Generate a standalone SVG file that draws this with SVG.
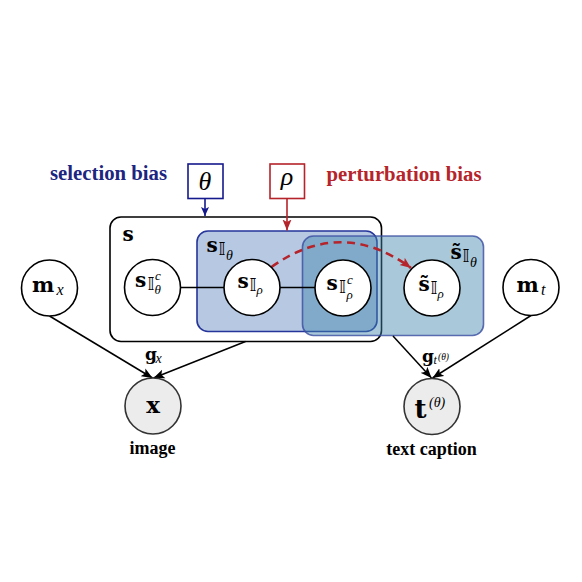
<svg xmlns="http://www.w3.org/2000/svg" width="582" height="582" viewBox="0 0 582 582">
<defs>
<style>
.mb{font-family:"DejaVu Serif",serif;font-weight:bold;fill:#000}
.mi{font-family:"Liberation Serif",serif;font-style:italic;fill:#000}
.bb{font-family:"DejaVu Sans",sans-serif;fill:#000}
.lbl{font-family:"Liberation Serif",serif;font-weight:bold}
.node{fill:#fff;stroke:#000;stroke-width:1.6}
.obs{fill:#ececec;stroke:#333;stroke-width:1.6}
.edge{stroke:#000;stroke-width:1.5;fill:none}
</style>
<marker id="ak" markerWidth="12" markerHeight="10" refX="11" refY="5" orient="auto" markerUnits="userSpaceOnUse">
<path d="M0,0.5 L11,5 L0,9.5 L2.5,5 z" fill="#000"/>
</marker>
<marker id="an" markerWidth="10" markerHeight="10" refX="9" refY="5" orient="auto" markerUnits="userSpaceOnUse">
<path d="M0,1 L9,5 L0,9 L2,5 z" fill="#141a8c"/>
</marker>
<marker id="ar" markerWidth="12" markerHeight="10" refX="11" refY="5" orient="auto" markerUnits="userSpaceOnUse">
<path d="M0,0.5 L11,5 L0,9.5 L2.5,5 z" fill="#b5242a"/>
</marker>
</defs>
<rect width="582" height="582" fill="#fff"/>

<text class="lbl" x="50" y="180" font-size="20.5" fill="#1c2580" textLength="117" lengthAdjust="spacingAndGlyphs">selection bias</text>
<text class="lbl" x="326.5" y="180.5" font-size="20.5" fill="#b5242a" textLength="155" lengthAdjust="spacingAndGlyphs">perturbation bias</text>

<g id="theta">
<rect x="188" y="164" width="35" height="34.5" fill="#fff" stroke="#141a8c" stroke-width="1.6"/>
<text class="mi" x="205" y="190" font-size="26" text-anchor="middle">θ</text>
</g>
<g id="rho">
<rect x="270" y="164" width="34.5" height="34.5" fill="#fff" stroke="#b5242a" stroke-width="1.6"/>
<text class="mi" x="287" y="185" font-size="26" text-anchor="middle">ρ</text>
</g>

<g id="S">
<rect x="110" y="217" width="271.5" height="124.5" rx="11" fill="none" stroke="#000" stroke-width="1.6"/>
<text class="mb" x="122.5" y="241" font-size="20">s</text>
</g>
<g id="S_Itheta">
<rect x="197" y="231" width="180" height="100.5" rx="11" fill="#b6c8e2" stroke="#25359a" stroke-width="1.6"/>
<text class="mb" x="206.5" y="251.5" font-size="20">s</text>
<text class="bb" x="218.5" y="254.5" font-size="18">𝕀</text>
<text class="mi" x="226" y="259.5" font-size="14">θ</text>
</g>
<g id="Stilde_Itheta">
<rect x="302.5" y="236" width="181" height="99.5" rx="11" fill="rgb(64,133,173)" fill-opacity="0.45" stroke="#3a4ca0" stroke-opacity="0.8" stroke-width="1.6"/>
<text class="mb" x="450.5" y="258.5" font-size="20">s&#x303;</text>
<text class="bb" x="462.5" y="261.5" font-size="18">𝕀</text>
<text class="mi" x="470" y="266.5" font-size="14">θ</text>
</g>

<g id="connectors">
<line x1="205" y1="198.5" x2="205" y2="216" stroke="#141a8c" stroke-width="1.6" marker-end="url(#an)"/>
<line x1="287" y1="198.5" x2="287" y2="230.5" stroke="#b5242a" stroke-width="1.6" marker-end="url(#ar)"/>
<line class="edge" x1="180.5" y1="287.5" x2="224" y2="287.5"/>
<line class="edge" x1="280" y1="287.5" x2="315" y2="287.5"/>
<path d="M271.5,267 Q341.5,217 411,268" fill="none" stroke="#b5242a" stroke-width="2.6" stroke-dasharray="8,5.5" marker-end="url(#ar)"/>
<line class="edge" x1="49.5" y1="316" x2="152.5" y2="378" marker-end="url(#ak)"/>
<line class="edge" x1="245.5" y1="341.5" x2="153.5" y2="378" marker-end="url(#ak)"/>
<line class="edge" x1="393" y1="336" x2="431.5" y2="378" marker-end="url(#ak)"/>
<line class="edge" x1="531" y1="315.5" x2="432.5" y2="378" marker-end="url(#ak)"/>
<text class="mb" x="145" y="360" font-size="17">g</text>
<text class="mi" x="155.5" y="363" font-size="14">x</text>
<text class="mb" x="422" y="361.5" font-size="17">g</text>
<text class="mi" x="433.5" y="364" font-size="12">t</text>
<text class="mi" x="438" y="360" font-size="9.5">(θ)</text>
</g>

<g id="s_Ithetac">
<circle class="node" cx="152.5" cy="287.5" r="28"/>
<text class="mb" x="135" y="287" font-size="20">s</text>
<text class="bb" x="147.5" y="290" font-size="18">𝕀</text>
<text class="mi" x="155" y="280" font-size="13">c</text>
<text class="mi" x="154.5" y="294" font-size="13">θ</text>
</g>
<g id="s_Irho">
<circle class="node" cx="252" cy="287.5" r="28" stroke="#b5242a"/>
<text class="mb" x="237.5" y="288" font-size="20">s</text>
<text class="bb" x="249.5" y="291" font-size="18">𝕀</text>
<text class="mi" x="256.5" y="294" font-size="13">ρ</text>
</g>
<g id="s_Irhoc">
<circle class="node" cx="343" cy="288" r="28" stroke="#141a8c" stroke-width="1.9"/>
<text class="mb" x="326.5" y="289.5" font-size="20">s</text>
<text class="bb" x="339" y="292.5" font-size="18">𝕀</text>
<text class="mi" x="347" y="284" font-size="13">c</text>
<text class="mi" x="346.5" y="298.5" font-size="13">ρ</text>
</g>
<g id="stilde_Irho">
<circle class="node" cx="432" cy="288" r="28" stroke="#b5242a"/>
<text class="mb" x="418.5" y="291" font-size="20">s&#x303;</text>
<text class="bb" x="430.5" y="294" font-size="18">𝕀</text>
<text class="mi" x="437.5" y="298" font-size="13">ρ</text>
</g>
<g id="m_x">
<circle class="node" cx="49.5" cy="288" r="28"/>
<text class="mb" x="32" y="292" font-size="21">m</text>
<text class="mi" x="56.5" y="295" font-size="16">x</text>
</g>
<g id="m_t">
<circle class="node" cx="531" cy="287.5" r="28"/>
<text class="mb" x="516.5" y="291.5" font-size="21">m</text>
<text class="mi" x="541" y="295" font-size="16">t</text>
</g>
<g id="x">
<circle class="obs" cx="153" cy="406" r="28"/>
<text class="mb" x="153" y="413" font-size="23" text-anchor="middle">x</text>
<text class="lbl" x="152.5" y="454" font-size="18" text-anchor="middle" fill="#000">image</text>
</g>
<g id="t">
<circle class="obs" cx="432" cy="406.5" r="28"/>
<text class="mb" x="414.5" y="418" font-size="26">t</text>
<text class="mi" x="429" y="407" font-size="14">(θ)</text>
<text class="lbl" x="431.5" y="455" font-size="18" text-anchor="middle" fill="#000">text caption</text>
</g>
</svg>
